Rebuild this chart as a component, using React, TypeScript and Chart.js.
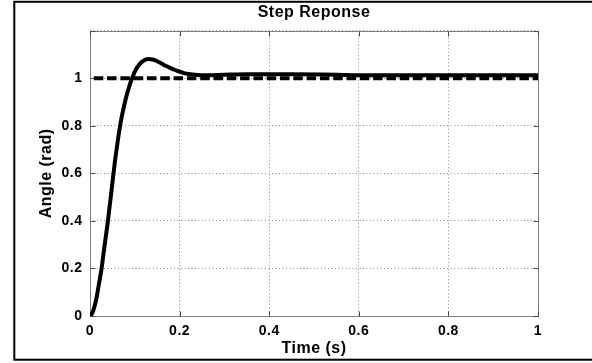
import React, { useEffect, useRef } from "react";
import { Chart, registerables } from "chart.js";

Chart.register(...registerables);

// ---- data ----
const timeS = [
  0, 0.005, 0.01, 0.015, 0.02, 0.025, 0.03, 0.035, 0.04, 0.045, 0.05, 0.055,
  0.06, 0.065, 0.07, 0.075, 0.08, 0.085, 0.09, 0.095, 0.1, 0.11, 0.12, 0.13,
  0.14, 0.15, 0.16, 0.17, 0.18, 0.19, 0.2, 0.21, 0.22, 0.24, 0.26, 0.3, 0.35,
  0.45, 0.55, 0.6, 0.7, 0.8, 0.9, 1.0,
];
const angleRad = [
  0, 0.012, 0.04, 0.08, 0.135, 0.19, 0.26, 0.33, 0.4, 0.48, 0.56, 0.64,
  0.71, 0.775, 0.83, 0.875, 0.915, 0.95, 0.98, 1.005, 1.028, 1.058, 1.075, 1.081,
  1.079, 1.072, 1.062, 1.052, 1.043, 1.035, 1.028, 1.022, 1.018, 1.014, 1.013, 1.015, 1.017,
  1.017, 1.015, 1.013, 1.013, 1.013, 1.013, 1.013,
];
const refTime = [0, 1];
const refAngle = [1, 1];
const xTicks = [0, 0.2, 0.4, 0.6, 0.8, 1];
const yTicks = [0, 0.2, 0.4, 0.6, 0.8, 1, 1.2];
const xMin = 0;
const xMax = 1;
const yMin = 0;
const yMax = 1.2;
const yLastLabel = 1;
const titleText = "Step Reponse";
const xTitle = "Time (s)";
const yTitle = "Angle (rad)";

const FONT = '"Liberation Sans", Arial, Helvetica, sans-serif';

const spacingPlugin = {
  id: "spacing",
  beforeUpdate(chart: any) {
    chart.ctx.letterSpacing = "0.5px";
  },
  beforeDraw(chart: any) {
    chart.ctx.letterSpacing = "0.5px";
  },
};

const boxPlugin = {
  id: "axesBox",
  beforeDatasetsDraw(chart: any) {
    const { ctx, chartArea, scales } = chart;
    const { left, right, top, bottom } = chartArea;
    const x = scales.x;
    const y = scales.y;
    ctx.save();
    ctx.setLineDash([]);
    ctx.lineWidth = 1;
    ctx.strokeStyle = "#7f7f7f";
    const l = Math.round(left) + 0.5;
    const r = Math.round(right) + 0.5;
    const t = Math.round(top) + 0.5;
    const b = Math.round(bottom) + 0.5;
    ctx.strokeRect(l, t, r - l, b - t);
    ctx.strokeStyle = "#4a4a4a";
    ctx.beginPath();
    xTicks.forEach((v) => {
      const px = Math.round(x.getPixelForValue(v)) + 0.5;
      ctx.moveTo(px, b);
      ctx.lineTo(px, b - 5);
      ctx.moveTo(px, t);
      ctx.lineTo(px, t + 5);
    });
    yTicks.forEach((v) => {
      const py = Math.round(y.getPixelForValue(v)) + 0.5;
      ctx.moveTo(l, py);
      ctx.lineTo(l + 5, py);
      ctx.moveTo(r, py);
      ctx.lineTo(r - 5, py);
    });
    ctx.stroke();
    ctx.restore();
  },
  afterDraw(chart: any) {
    const { ctx } = chart;
    ctx.save();
    ctx.setLineDash([]);
    ctx.lineWidth = 2;
    ctx.strokeStyle = "#000";
    ctx.strokeRect(14.3, 1.8, 600, 357.9);
    ctx.restore();
  },
};

export default function App() {
  const ref = useRef<HTMLCanvasElement | null>(null);

  useEffect(() => {
    document.body.style.margin = "0";
    const canvas = ref.current;
    if (!canvas) return;

    const fmt = (v: number) => {
      if (v > yLastLabel + 1e-6) return "";
      return String(Math.round(v * 10) / 10);
    };

    const chart = new Chart(canvas, {
      type: "line",
      data: {
        datasets: [
          {
            label: "response",
            data: timeS.map((t, i) => ({ x: t, y: angleRad[i] })),
            borderColor: "#000",
            borderWidth: 4,
            pointRadius: 0,
            cubicInterpolationMode: "monotone",
            borderJoinStyle: "round",
            borderCapStyle: "round",
            fill: false,
          },
          {
            label: "reference",
            data: refTime.map((t, i) => ({ x: t, y: refAngle[i] })),
            borderColor: "#000",
            borderWidth: 4,
            pointRadius: 0,
            borderDash: [9.5, 3.8],
            borderDashOffset: 9.5,
            borderCapStyle: "butt",
            fill: false,
          },
        ],
      },
      options: {
        responsive: false,
        animation: false,
        events: [],
        layout: { padding: { left: 0, right: 54, top: 0, bottom: 0 } },
        plugins: {
          legend: { display: false },
          tooltip: { enabled: false },
          title: {
            display: true,
            text: titleText,
            fullSize: false,
            color: "#000",
            font: { family: FONT, size: 16, weight: "bold" },
            padding: { top: 2.5, bottom: 9.1 },
          },
        },
        scales: {
          x: {
            type: "linear",
            min: xMin,
            max: xMax,
            afterFit: (s: any) => {
              s.height = 47;
            },
            ticks: {
              stepSize: 0.2,
              color: "#000",
              padding: 6.5,
              maxRotation: 0,
              font: { family: FONT, size: 14, weight: "bold" },
              callback: (v: any) => String(Math.round(Number(v) * 10) / 10),
            },
            grid: {
              color: "#8a8a8a",
              lineWidth: 1,
              drawTicks: false,
            },
            border: { display: false, dash: [1, 2.5] },
            title: {
              display: true,
              text: xTitle,
              color: "#000",
              font: { family: FONT, size: 16, weight: "bold" },
              padding: { top: 0, bottom: 4.5 },
            },
          },
          y: {
            type: "linear",
            min: yMin,
            max: yMax,
            afterFit: (s: any) => {
              s.width = 90;
            },
            ticks: {
              stepSize: 0.2,
              color: "#000",
              padding: 7.5,
              font: { family: FONT, size: 14, weight: "bold" },
              callback: (v: any) => fmt(Number(v)),
            },
            grid: {
              color: "#8a8a8a",
              lineWidth: 1,
              drawTicks: false,
            },
            border: { display: false, dash: [1, 2.5] },
            title: {
              display: true,
              text: yTitle,
              color: "#000",
              font: { family: FONT, size: 16, weight: "bold" },
              padding: { top: 37, bottom: 0 },
            },
          },
        },
      } as any,
      plugins: [spacingPlugin, boxPlugin],
    });

    return () => chart.destroy();
  }, []);

  return (
    <div style={{ width: 592, height: 363, background: "#fff" }}>
      <canvas ref={ref} width={592} height={363} style={{ display: "block" }} />
    </div>
  );
}
